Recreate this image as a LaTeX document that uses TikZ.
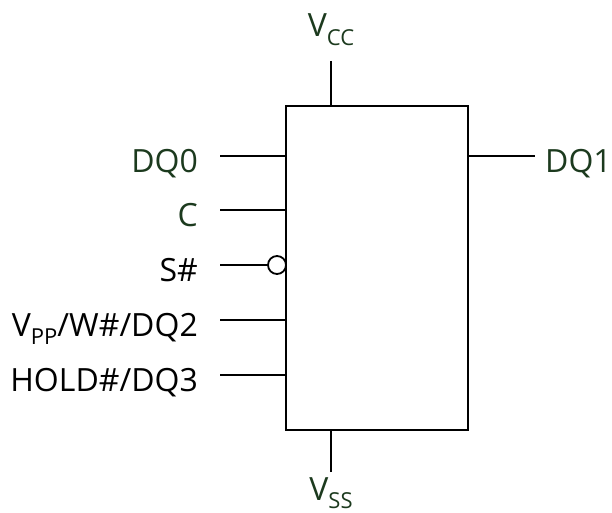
\documentclass[tikz,border=0pt]{standalone}
\usepackage{fontspec}
\setmainfont{Open Sans}
\usepackage{tikz}

\definecolor{pinGreen}{RGB}{28,58,30}
\newcommand{\pinsub}[1]{\raisebox{-8.5pt}{\fontsize{22}{22}\selectfont #1}}

\tikzset{
    chip/.style={draw, line width=2pt, minimum width=182pt, minimum height=324pt, inner sep=0pt},
    pinline/.style={line width=2pt},
    pinlabel/.style={font=\fontsize{32}{36}\selectfont, inner sep=0pt, anchor=base east},
    greenlabel/.style={pinlabel, text=pinGreen},
    bubble/.style={draw, circle, line width=1.8pt, minimum size=18pt, inner sep=0pt, fill=white}
}

\begin{document}
\begin{tikzpicture}[x=1pt, y=-1pt]
    \useasboundingbox (0,0) rectangle (612,513);

    % Draw the chip body
    \node[chip] (chip) at (377,268) {};

    % Supply pins
    \coordinate (vccend) at (331,61);
    \coordinate (vssend) at (331,472);
    \draw[pinline] (vccend) -- (vccend |- chip.north);
    \draw[pinline] (vssend) -- (vssend |- chip.south);
    \node[greenlabel, anchor=base] (vcc) at (331,37) {V\pinsub{CC}};
    \node[greenlabel, anchor=base] (vss) at (331,500) {V\pinsub{SS}};

    % Left side pins
    \coordinate (dq0end) at (220,156);
    \coordinate (cend) at (220,210);
    \coordinate (send) at (220,265);
    \coordinate (vppend) at (220,320);
    \coordinate (holdend) at (220,375);
    \draw[pinline] (dq0end) -- (dq0end -| chip.west);
    \draw[pinline] (cend) -- (cend -| chip.west);
    \node[bubble] (sbubble) at (277,265) {};
    \draw[pinline] (send) -- (sbubble.west);
    \draw[pinline] (vppend) -- (vppend -| chip.west);
    \draw[pinline] (holdend) -- (holdend -| chip.west);

    % Labels for the left side pins
    \node[greenlabel] (dq0) at (198,172) {DQ0};
    \node[greenlabel] (c) at (198,226) {C};
    \node[pinlabel] (s) at (198,281) {S\#};
    \node[pinlabel] (vpp) at (198,336) {V\pinsub{PP}/W\#/DQ2};
    \node[pinlabel] (hold) at (198,391) {HOLD\#/DQ3};

    % Right side pin
    \coordinate (dq1end) at (535,156);
    \draw[pinline] (dq1end -| chip.east) -- (dq1end);
    \node[greenlabel, anchor=base west] (dq1) at (545,172) {DQ1};
\end{tikzpicture}
\end{document}
